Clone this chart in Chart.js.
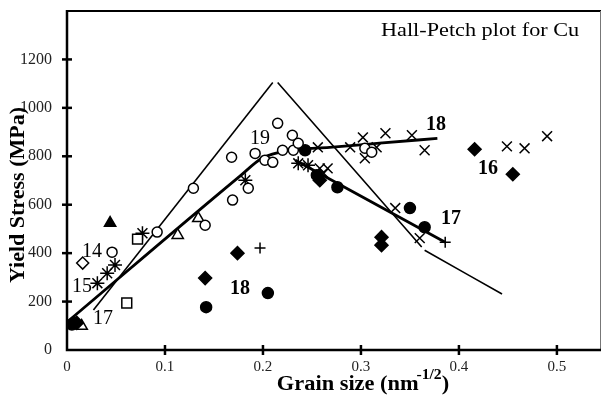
<!DOCTYPE html>
<html>
<head>
<meta charset="utf-8">
<script src="https://cdn.jsdelivr.net/npm/chart.js@4.4.0/dist/chart.umd.min.js"></script>
<style>
  html, body { margin: 0; padding: 0; background: #fff; }
  #wrap { width: 603px; height: 398px; }
</style>
</head>
<body>
<div id="wrap"><canvas id="hallpetch"></canvas></div>
<script>
// axis ticks
const xTicks = [0, 0.1, 0.2, 0.3, 0.4, 0.5];
const yTicks = [0, 200, 400, 600, 800, 1000, 1200];

// measured points, [grain size d^-1/2, yield stress MPa]
const openCircles = [[0.046, 404], [0.092, 487], [0.129, 668], [0.141, 515], [0.168, 796], [0.169, 619],
  [0.185, 668], [0.192, 812], [0.202, 784], [0.210, 775], [0.215, 936], [0.220, 825], [0.230, 887],
  [0.231, 825], [0.236, 854], [0.304, 833], [0.311, 817]];
const filledCircles = [[0.005, 105], [0.142, 177], [0.205, 235], [0.243, 825], [0.255, 722],
  [0.276, 672], [0.350, 586], [0.365, 507]];
const openDiamonds = [[0.016, 359]];
const filledDiamonds = [[0.010, 112], [0.141, 297], [0.174, 400], [0.258, 701], [0.321, 466],
  [0.321, 433], [0.416, 829], [0.455, 726]];
const openSquares = [[0.061, 194], [0.072, 458]];
const openTriangles = [[0.015, 99], [0.113, 474], [0.134, 544]];
const filledTriangles = [[0.044, 524], [0.007, 110]];
const stars = [[0.031, 276], [0.041, 317], [0.049, 351], [0.077, 482], [0.182, 701], [0.236, 771], [0.246, 763]];
const xCrosses = [[0.258, 750], [0.266, 750], [0.262, 730], [0.256, 837], [0.289, 837], [0.302, 878],
  [0.304, 792], [0.316, 837], [0.325, 895], [0.352, 887], [0.365, 825], [0.335, 586], [0.360, 462],
  [0.449, 841], [0.467, 833], [0.490, 883]];
const plusCrosses = [[0.197, 421], [0.386, 445]];

// fit lines
const thinUp = [[0.027, 165], [0.210, 1105]];
const thinDown = [[0.215, 1105], [0.362, 425]];
const thinLow = [[0.365, 412], [0.444, 231]];
const thickA = [[0, 115], [0.1765, 718], [0.199, 792], [0.228, 825], [0.268, 837], [0.319, 854], [0.378, 874]];
const thickB = [[0.233, 784], [0.386, 445]];

// reference numbers
const refLabels = ["14", "15", "17", "19", "18", "16", "17", "18"];
const refX = [0.0255, 0.0153, 0.0367, 0.197, 0.3765, 0.4296, 0.392, 0.1765];
const refY = [408, 264, 132, 878, 936, 751, 544, 256];
const refBold = [false, false, false, false, true, true, true, true];

const serif = '"Liberation Serif", "Times New Roman", serif';

function pts(arr) {
  return arr.map(p => ({ x: p[0], y: p[1] }));
}

function markers(arr, style, radius, fill) {
  return {
    type: "scatter",
    data: pts(arr),
    pointStyle: style,
    pointRadius: radius,
    pointBorderColor: "#000",
    pointBackgroundColor: fill,
    pointBorderWidth: 1.5,
    order: 0,
  };
}

function fitLine(arr, width) {
  return {
    type: "line",
    data: pts(arr),
    borderColor: "#000",
    borderWidth: width,
    pointRadius: 0,
    fill: false,
    cubicInterpolationMode: "monotone",
    order: 5,
  };
}

// no extra room for edge labels
function noPad(s) {
  s.paddingTop = 0;
  s.paddingBottom = 0;
  s.paddingLeft = 0;
  s.paddingRight = 0;
}

// frame, ticks, titles and reference numbers
const decorPlugin = {
  id: "decor",
  afterDraw(chart) {
    const ctx = chart.ctx;
    const a = chart.chartArea;
    const xs = chart.scales.x;
    const ys = chart.scales.y;
    ctx.save();
    ctx.strokeStyle = "#000";

    // top and right frame
    ctx.lineWidth = 2;
    ctx.beginPath();
    ctx.moveTo(a.left, a.top);
    ctx.lineTo(a.right, a.top);
    ctx.stroke();
    ctx.strokeStyle = "#777";
    ctx.lineWidth = 1;
    ctx.beginPath();
    ctx.moveTo(a.right - 0.5, a.top);
    ctx.lineTo(a.right - 0.5, a.bottom);
    ctx.stroke();

    // axes
    ctx.strokeStyle = "#000";
    ctx.lineWidth = 2.5;
    ctx.beginPath();
    ctx.moveTo(a.left, a.top - 1);
    ctx.lineTo(a.left, a.bottom);
    ctx.lineTo(a.right, a.bottom);
    ctx.stroke();

    // ticks crossing the axes
    ctx.lineWidth = 2.5;
    yTicks.forEach(v => {
      const py = ys.getPixelForValue(v);
      if (v === 0) return;
      ctx.beginPath();
      ctx.moveTo(a.left - 5, py);
      ctx.lineTo(a.left + 5, py);
      ctx.stroke();
    });
    xTicks.forEach(v => {
      const px = xs.getPixelForValue(v);
      if (v === 0) return;
      ctx.beginPath();
      ctx.moveTo(px, a.bottom - 5);
      ctx.lineTo(px, a.bottom + 5);
      ctx.stroke();
    });

    ctx.fillStyle = "#000";

    // title in the corner (source is a bit wide)
    ctx.save();
    ctx.translate(381, 36);
    ctx.scale(1.17, 1);
    ctx.font = "19px " + serif;
    ctx.textAlign = "left";
    ctx.textBaseline = "alphabetic";
    ctx.fillText("Hall-Petch plot for Cu", 0, 0);
    ctx.restore();

    // reference numbers
    ctx.textAlign = "center";
    ctx.textBaseline = "middle";
    refLabels.forEach((t, i) => {
      ctx.font = (refBold[i] ? "bold " : "") + "20px " + serif;
      ctx.fillText(t, xs.getPixelForValue(refX[i]), ys.getPixelForValue(refY[i]) + 1);
    });

    // y title
    ctx.save();
    ctx.translate(19, 195);
    ctx.rotate(-Math.PI / 2);
    ctx.scale(1.1, 1);
    ctx.font = "bold 20px " + serif;
    ctx.textAlign = "center";
    ctx.textBaseline = "middle";
    ctx.fillText("Yield Stress (MPa)", 0, 0);
    ctx.restore();

    // x title with superscript
    const mainFont = "bold 20px " + serif;
    const supFont = "bold 14px " + serif;
    ctx.save();
    ctx.textAlign = "left";
    ctx.textBaseline = "alphabetic";
    ctx.font = mainFont;
    const t1 = "Grain size (nm";
    const w1 = ctx.measureText(t1).width;
    const w3 = ctx.measureText(")").width;
    ctx.font = supFont;
    const t2 = "-1/2";
    const w2 = ctx.measureText(t2).width;
    const total = w1 + w2 + w3 - 2;
    ctx.translate(363, 390);
    ctx.scale(1.12, 1);
    const x0 = -total / 2;
    ctx.font = mainFont;
    ctx.fillText(t1, x0, 0);
    ctx.font = supFont;
    ctx.fillText(t2, x0 + w1 - 2, -11);
    ctx.font = mainFont;
    ctx.fillText(")", x0 + w1 + w2 - 2, 0);
    ctx.restore();

    ctx.restore();
  },
};

const datasets = [
  markers(openCircles, "circle", 5, "#fff"),
  markers(filledCircles, "circle", 5.5, "#000"),
  markers(openDiamonds, "rectRot", 6, "#fff"),
  markers(filledDiamonds, "rectRot", 6.5, "#000"),
  markers(openSquares, "rect", 7, "#fff"),
  markers(openTriangles, "triangle", 6.5, "#fff"),
  markers(filledTriangles, "triangle", 6.5, "#000"),
  markers(stars, "star", 7, "#000"),
  markers(xCrosses, "crossRot", 7, "#000"),
  markers(plusCrosses, "cross", 5.5, "#000"),
  fitLine(thinUp, 1.6),
  fitLine(thinDown, 1.6),
  fitLine(thinLow, 1.6),
  fitLine(thickA, 2.8),
  fitLine(thickB, 2.8),
];

new Chart(document.getElementById("hallpetch"), {
  type: "scatter",
  data: { datasets: datasets },
  options: {
    responsive: true,
    maintainAspectRatio: false,
    animation: false,
    layout: { autoPadding: false, padding: { top: 11, right: 2, left: 0, bottom: 0 } },
    plugins: { legend: { display: false }, tooltip: { enabled: false } },
    scales: {
      x: {
        type: "linear",
        min: 0,
        max: 0.545,
        grid: { display: false },
        border: { display: false },
        afterBuildTicks: s => { s.ticks = xTicks.map(v => ({ value: v })); },
        afterFit: s => { s.height = 48; noPad(s); },
        ticks: {
          padding: 0,
          color: "#222",
          font: { family: serif, size: 15 },
          callback: v => String(v),
        },
      },
      y: {
        type: "linear",
        min: 0,
        max: 1400,
        grid: { display: false },
        border: { display: false },
        afterBuildTicks: s => { s.ticks = yTicks.map(v => ({ value: v })); },
        afterFit: s => { s.width = 67; noPad(s); },
        ticks: {
          padding: 7,
          color: "#222",
          font: { family: serif, size: 16 },
          callback: v => String(v),
        },
      },
    },
  },
  plugins: [decorPlugin],
});
</script>
</body>
</html>
